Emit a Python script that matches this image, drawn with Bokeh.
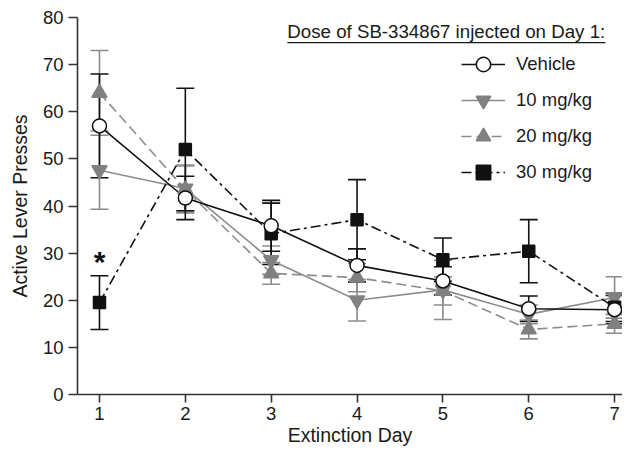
from bokeh.plotting import figure
from bokeh.models import (ColumnDataSource, Whisker, TeeHead, Legend, LegendItem,
                          Label, BoxAnnotation, FixedTicker, Range1d)
from bokeh.embed import file_html
from bokeh.resources import INLINE

days = [1, 2, 3, 4, 5, 6, 7]
series_names = ["Vehicle", "10 mg/kg", "20 mg/kg", "30 mg/kg"]
vehicle_mean = [57.0, 41.7, 35.8, 27.4, 24.1, 18.2, 18.0]
vehicle_sem = [11.0, 4.6, 5.4, 3.5, 3.0, 2.7, 3.0]
mg10_mean = [47.6, 43.7, 28.5, 20.0, 22.2, 17.0, 20.6]
mg10_sem = [8.3, 5.0, 3.0, 4.4, 6.3, 2.0, 4.4]
mg20_mean = [64.0, 43.5, 25.7, 24.8, 22.0, 13.8, 15.0]
mg20_sem = [9.0, 5.0, 2.3, 3.0, 3.0, 2.0, 2.0]
mg30_mean = [19.5, 52.0, 34.1, 37.1, 28.6, 30.4, 18.5]
mg30_sem = [5.7, 13.0, 6.5, 8.5, 4.6, 6.7, 3.0]
y_ticks = [0, 10, 20, 30, 40, 50, 60, 70, 80]
legend_title = "Dose of SB-334867 injected on Day 1:"

FONT = "Liberation Sans"
TXT = "#1a1a1a"
GRAY = "#808080"
GRAY_LINE = "#8c8c8c"
BLACK = "#111111"

p = figure(width=622, height=448, output_backend="svg", toolbar_location=None,
           x_range=Range1d(0.744, 7.092), y_range=Range1d(0, 80),
           min_border_left=77, min_border_right=0, min_border_top=17,
           min_border_bottom=53)
p.outline_line_color = None
p.xgrid.visible = False
p.ygrid.visible = False
p.background_fill_color = "white"
p.border_fill_color = "white"

for ax in (p.xaxis[0], p.yaxis[0]):
    ax.axis_line_color = "#333333"
    ax.axis_line_width = 1.6
    ax.major_tick_line_color = "#333333"
    ax.major_tick_line_width = 1.6
    ax.major_tick_in = 0
    ax.minor_tick_line_color = None
    ax.major_label_text_font = FONT
    ax.major_label_text_font_size = "18.5px"
    ax.major_label_text_color = TXT
    ax.axis_label_text_font = FONT
    ax.axis_label_text_font_size = "19.5px"
    ax.axis_label_text_font_style = "normal"
    ax.axis_label_text_color = TXT

p.xaxis.ticker = FixedTicker(ticks=days)
p.yaxis.ticker = FixedTicker(ticks=y_ticks)
p.xaxis.axis_label = "Extinction Day"
p.yaxis.axis_label = "Active Lever Presses"
p.xaxis.major_tick_out = 8
p.yaxis.major_tick_out = 9
p.xaxis.major_label_standoff = 4
p.xaxis.axis_label_standoff = 1
p.yaxis.major_label_standoff = 5
p.yaxis.axis_label_standoff = 9

specs = [
    ("20 mg/kg", mg20_mean, mg20_sem, GRAY_LINE, "10 5", "triangle", GRAY, GRAY, 15, GRAY_LINE),
    ("10 mg/kg", mg10_mean, mg10_sem, GRAY_LINE, "solid", "inverted_triangle", GRAY, GRAY, 15, GRAY_LINE),
    ("30 mg/kg", mg30_mean, mg30_sem, BLACK, "10 4 3 4", "square", BLACK, BLACK, 12, BLACK),
    ("Vehicle", vehicle_mean, vehicle_sem, BLACK, "solid", "circle", "white", BLACK, 14, BLACK),
]

sources = {}
for name, mean, sem, lc, dash, marker, fill, mlc, size, bc in specs:
    src = ColumnDataSource(dict(x=days, y=mean,
                                lo=[m - s for m, s in zip(mean, sem)],
                                hi=[m + s for m, s in zip(mean, sem)]))
    w = Whisker(source=src, base="x", lower="lo", upper="hi", dimension="height",
                line_color=bc, line_width=1.6,
                lower_head=TeeHead(size=18, line_color=bc, line_width=1.6),
                upper_head=TeeHead(size=18, line_color=bc, line_width=1.6))
    p.add_layout(w)
    sources[name] = src

line_r = {}
for name, mean, sem, lc, dash, marker, fill, mlc, size, bc in specs:
    line_r[name] = p.line("x", "y", source=sources[name], line_color=lc,
                          line_width=1.6, line_dash=dash)

scat_r = {}
for name, mean, sem, lc, dash, marker, fill, mlc, size, bc in specs:
    scat_r[name] = p.scatter("x", "y", source=sources[name], marker=marker, size=size,
                             fill_color=fill, line_color=mlc, line_width=1.5)

items = [LegendItem(label=n, renderers=[line_r[n], scat_r[n]]) for n in series_names]
legend = Legend(items=items, location=(384, 204), orientation="vertical",
                label_text_font=FONT, label_text_font_size="18.5px",
                label_text_color=TXT, glyph_width=44, glyph_height=36,
                label_height=36, spacing=0, padding=0, margin=0,
                label_standoff=11, border_line_color=None,
                background_fill_alpha=0)
p.add_layout(legend, "center")

title = Label(x=3.188, y=77.1, text=legend_title, text_font=FONT,
              text_font_size="18.7px", text_color=TXT, text_align="left",
              text_baseline="alphabetic")
p.add_layout(title)
underline = BoxAnnotation(left=3.188, right=6.894, top=74.81, bottom=74.51,
                          fill_color=TXT, fill_alpha=1, line_color=None)
p.add_layout(underline)

star = Label(x=1, y=28.2, text="*", text_font=FONT, text_font_size="30px",
             text_font_style="bold", text_color=BLACK, text_align="center",
             text_baseline="middle")
p.add_layout(star)

open("out.html", "w").write(file_html(p, INLINE))
